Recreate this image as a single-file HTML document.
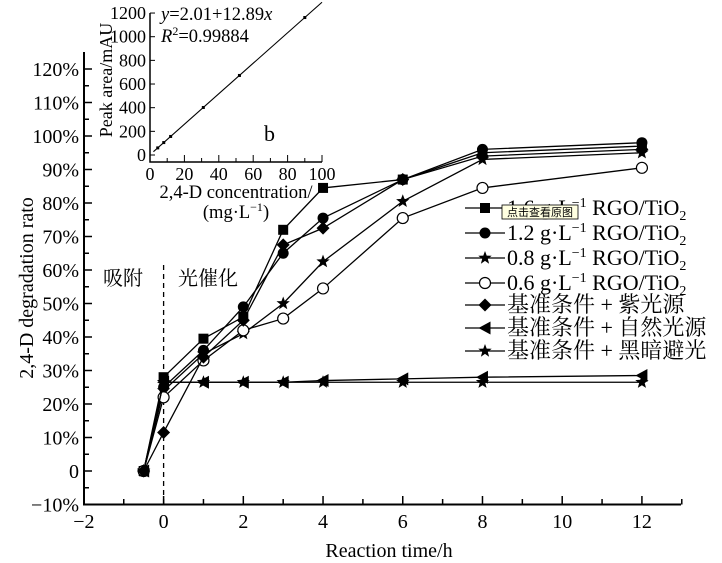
<!DOCTYPE html><html><head><meta charset="utf-8"><style>body{margin:0;background:#fff}svg{display:block}text{font-family:"Liberation Serif","Noto Serif CJK SC",serif;fill:#000}</style></head><body>
<svg id="s" width="722" height="563" xmlns="http://www.w3.org/2000/svg"></svg>
<script>
const s=document.getElementById('s');let h='';
const X=t=>163.6+t*39.86, Y=v=>471-v*3.35;
h+=`<path d="M84,52V504.5H681" fill="none" stroke="#000" stroke-width="2"/>`;
for(let v=-10;v<=120;v+=5){const y=Y(v);h+=`<line x1="84" x2="${v%10==0?92:89}" y1="${y}" y2="${y}" stroke="#000" stroke-width="1.5"/>`;
if(v%10==0)h+=`<text x="79" y="${y+7}" font-size="20" text-anchor="end">${v==0?'0':(v<0?'−10%':v+'%')}</text>`;}
for(let t=-2;t<=13;t++){const x=X(t);h+=`<line x1="${x}" x2="${x}" y1="504.5" y2="${t%2==0?496:499}" stroke="#000" stroke-width="1.5"/>`;
if(t%2==0&&t<=12)h+=`<text x="${x}" y="528" font-size="20" text-anchor="middle">${t<0?'−2':t}</text>`;}
h+=`<text x="389" y="557" font-size="20" text-anchor="middle">Reaction time/h</text>`;
h+=`<text transform="translate(33,288) rotate(-90)" font-size="20" text-anchor="middle">2,4-D degradation rato</text>`;
h+=`<line x1="163.6" x2="163.6" y1="265" y2="504" stroke="#000" stroke-dasharray="5,4" stroke-width="1.3"/>`;
h+=`<text x="103" y="285" font-size="20">吸附</text><text x="178" y="285" font-size="20">光催化</text>`;
const T=[-0.5,0,1,2,3,4,6,8,12];
const S=[['sq',[0,28,39.5,46,72,84.5,87,95,97]],['ci',[0,25,36,49,65,75.5,87,96,98]],['st',[0,24,35,41,50,62.5,80.5,93,95]],['oc',[0,22,33,42,45.5,54.5,75.5,84.5,90.5]],['di',[0,11.5,34,45,67.5,72.5,87,94,96]],['tr',[0,26.5,26.5,26.5,26.5,27,27.5,28,28.5]],['st',[0,26.5,26.5,26.5,26.5,26.5,26.5,26.5,26.5]]];
function star(x,y,r){let p='';for(let i=0;i<10;i++){const a=-Math.PI/2+i*Math.PI/5,rr=i%2?r*0.42:r;p+=(x+rr*Math.cos(a)).toFixed(1)+','+(y+rr*Math.sin(a)).toFixed(1)+' ';}return `<polygon points="${p}"/>`;}
function mk(m,x,y){switch(m){case'sq':return `<rect x="${x-5}" y="${y-5}" width="10" height="10"/>`;case'ci':return `<circle cx="${x}" cy="${y}" r="5.5"/>`;case'st':return star(x,y,7);case'oc':return `<circle cx="${x}" cy="${y}" r="5.5" fill="#fff" stroke="#000" stroke-width="1.2"/>`;case'di':return `<polygon points="${x},${y-6.5} ${x+6.5},${y} ${x},${y+6.5} ${x-6.5},${y}"/>`;case'tr':return `<polygon points="${x-6.5},${y} ${x+5.5},${y-6.5} ${x+5.5},${y+6.5}"/>`;}}
for(const [m,d] of S){h+=`<polyline fill="none" stroke="#000" stroke-width="1.3" points="${d.map((v,i)=>X(T[i])+','+Y(v)).join(' ')}"/>`;d.forEach((v,i)=>h+=mk(m,X(T[i]),Y(v)));}
const sub='<tspan dy="-8" font-size="14">−1</tspan><tspan dy="8"> RGO/TiO</tspan><tspan dy="5" font-size="14">2</tspan>';
const L=['1.6 g·L'+sub,'1.2 g·L'+sub,'0.8 g·L'+sub,'0.6 g·L'+sub,'基准条件 + 紫光源','基准条件 + 自然光源','基准条件 + 黑暗避光'];
const LM=['sq','ci','st','oc','di','tr','st'],LY=[208,233,258,283,305,328,351];
LM.forEach((m,i)=>{h+=`<line x1="465" x2="505" y1="${LY[i]}" y2="${LY[i]}" stroke="#000" stroke-width="1.3"/>`+mk(m,485,LY[i])+`<text x="507" y="${LY[i]+7}" font-size="22">${L[i]}</text>`;});
h+=`<rect x="502" y="205" width="76" height="14" fill="#ffffe1" stroke="#000" stroke-width="0.8"/><text x="540" y="216" font-size="11" text-anchor="middle" style="font-family:'Noto Sans CJK SC',sans-serif">点击查看原图</text>`;
const ix=v=>150+v*1.72, iy=v=>155-v*0.1183;
h+=`<rect x="150" y="10" width="172" height="152" fill="#fff"/><path d="M150,13V162H322" fill="none" stroke="#000" stroke-width="1.5"/>`;
for(let v=0;v<=1200;v+=200){h+=`<line x1="150" x2="155" y1="${iy(v)}" y2="${iy(v)}" stroke="#000"/><text x="146" y="${iy(v)+6}" font-size="18" text-anchor="end">${v}</text>`;}
for(let v=0;v<=100;v+=10){h+=`<line x1="${ix(v)}" x2="${ix(v)}" y1="162" y2="${v%20?158:155}" stroke="#000"/>`;if(v%20==0)h+=`<text x="${ix(v)}" y="180" font-size="18" text-anchor="middle">${v}</text>`;}
h+=`<line x1="${ix(2)}" y1="${iy(28)}" x2="${ix(100)}" y2="${iy(1291)}" stroke="#000" stroke-width="1.1"/>`;
[4.5,8,12,31,52,90].forEach(c=>h+=`<rect x="${ix(c)-1.5}" y="${iy(2+12.89*c)-1.5}" width="3" height="3"/>`);
h+=`<text x="161" y="20" font-size="18.5"><tspan font-style="italic">y</tspan>=2.01+12.89<tspan font-style="italic">x</tspan></text>`;
h+=`<text x="161" y="42" font-size="18.5"><tspan font-style="italic">R</tspan><tspan dy="-7" font-size="12">2</tspan><tspan dy="7">=0.99884</tspan></text>`;
h+=`<text x="264" y="141" font-size="22">b</text>`;
h+=`<text transform="translate(112,80) rotate(-90)" font-size="18" text-anchor="middle">Peak area/mAU</text>`;
h+=`<text x="236" y="198" font-size="18.5" text-anchor="middle">2,4-D concentration/</text>`;
h+=`<text x="236" y="218" font-size="18.5" text-anchor="middle">(mg·L<tspan dy="-7" font-size="12">−1</tspan><tspan dy="7">)</tspan></text>`;
s.innerHTML=h;
</script></body></html>
